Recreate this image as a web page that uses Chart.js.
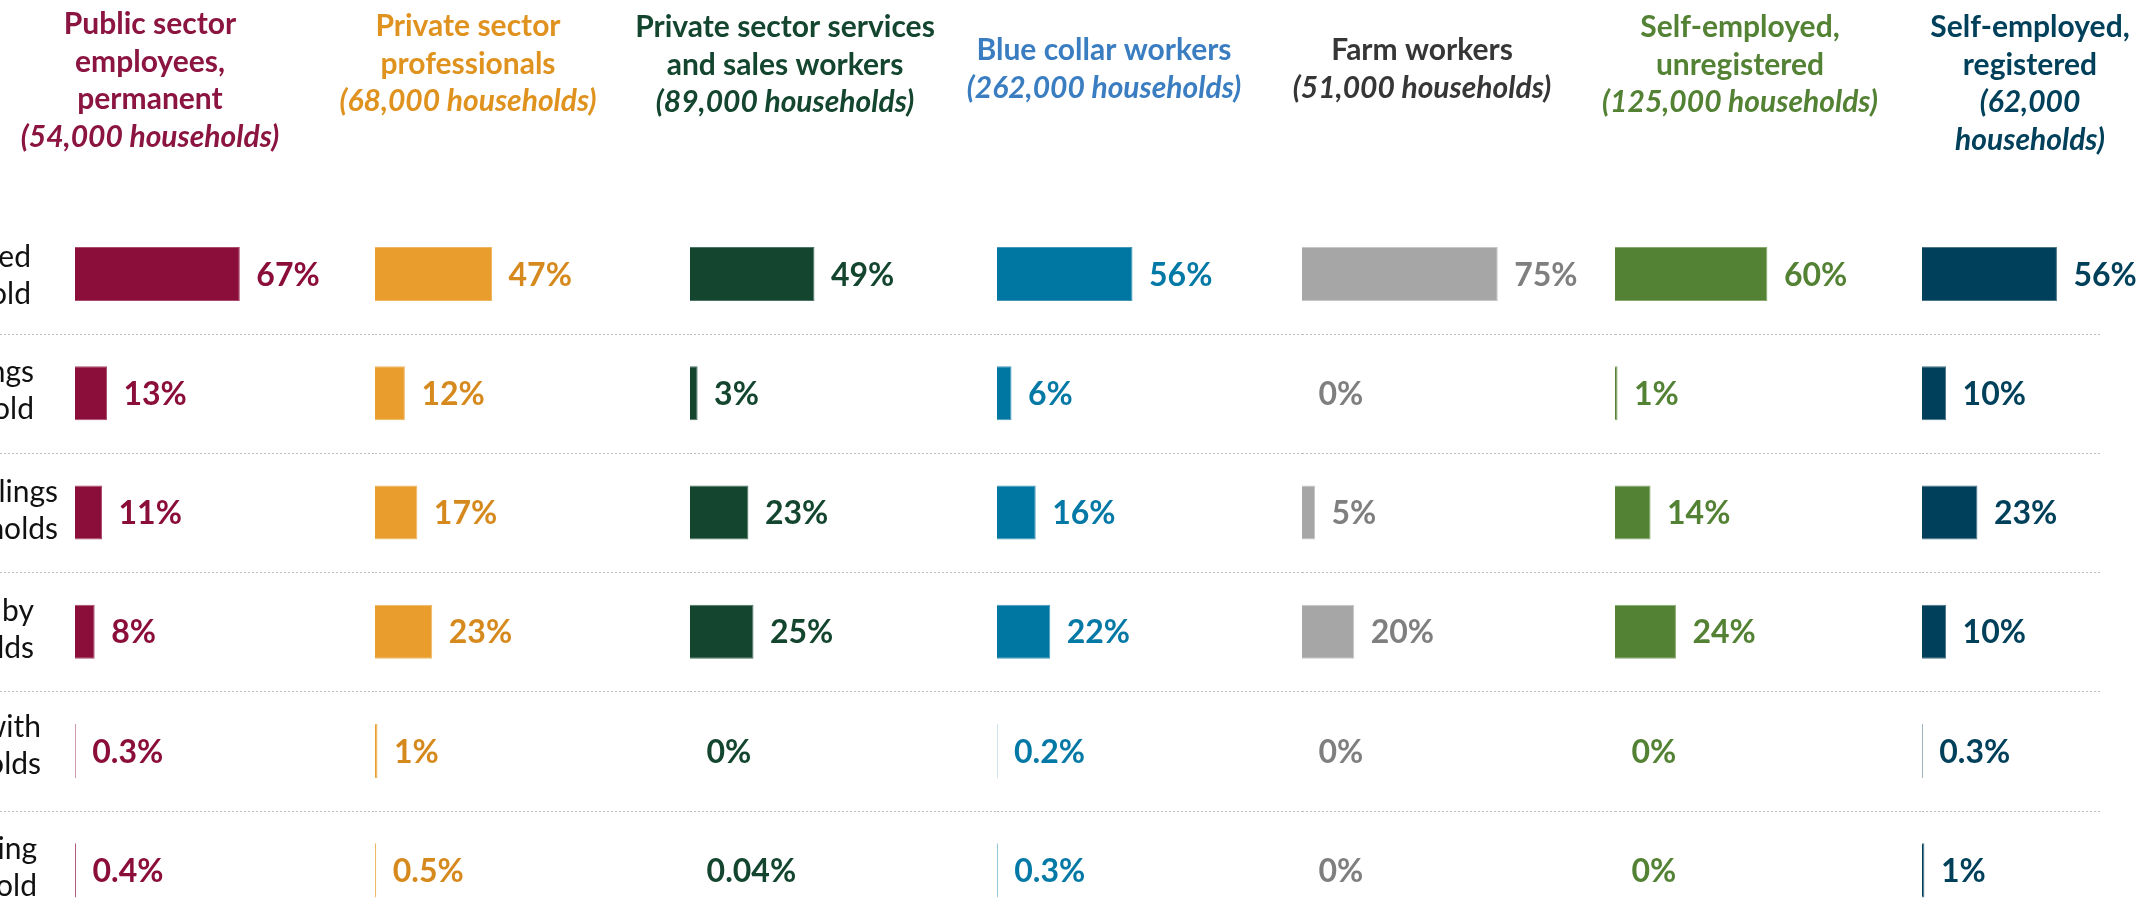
<!DOCTYPE html>
<html>
<head>
<meta charset="utf-8">
<script src="https://cdn.jsdelivr.net/npm/chart.js@4.4.0/dist/chart.umd.min.js"></script>
<style>
  html, body { margin: 0; padding: 0; background: #ffffff; overflow: hidden; width: 2149px; height: 903px; }
  #wrap { position: relative; width: 2149px; height: 903px; overflow: hidden; }
  #wrap canvas { position: absolute; left: 0; top: 0; }
</style>
</head>
<body>
<div id="wrap"></div>
<script>
// ---- data ----------------------------------------------------------------
// Row captions (only their trailing parts fall inside the frame)
const rowLabels = [
  ["ed", "old"],
  ["ngs", "old"],
  ["lings", "holds"],
  ["by", "lds"],
  ["with", "olds"],
  ["ing", "old"]
];

// Occupation groups (panel headings) and their household counts
const groupNames = [
  ["Public sector", "employees,", "permanent"],
  ["Private sector", "professionals"],
  ["Private sector services", "and sales workers"],
  ["Blue collar workers"],
  ["Farm workers"],
  ["Self-employed,", "unregistered"],
  ["Self-employed,", "registered"]
];
const householdCounts = [54000, 68000, 89000, 262000, 51000, 125000, 62000];

// Share of households in each row category, per occupation group (%)
const publicPermanent          = [67, 13, 11, 8, 0.3, 0.4];
const privateProfessionals     = [47, 12, 17, 23, 1, 0.5];
const privateServicesSales     = [49, 3, 23, 25, 0, 0.04];
const blueCollar               = [56, 6, 16, 22, 0.2, 0.3];
const farmWorkers              = [75, 0, 5, 20, 0, 0];
const selfEmployedUnregistered = [60, 1, 14, 24, 0, 0];
const selfEmployedRegistered   = [56, 10, 23, 10, 0.3, 1];

const groupValues = [
  publicPermanent, privateProfessionals, privateServicesSales, blueCollar,
  farmWorkers, selfEmployedUnregistered, selfEmployedRegistered
];

// ---- styling & layout ----------------------------------------------------
const W = 2149, H = 930;
const PLOT_TOP = 214.4;
const PLOT_RIGHT = 2102;
const barStart  = [75, 375, 690, 997, 1302, 1615, 1922];   // pixel of 0% in each panel
const pxPerPct  = [2.46, 2.49, 2.54, 2.42, 2.61, 2.54, 2.41];
const titleX    = [150, 468, 785, 1104, 1422, 1740, 2030];
const titleTop  = [34, 36, 37, 60, 60, 37, 37];            // first baseline
const countWraps = [false, false, false, false, false, false, true];
const rowLabelRight = [31, 34, 58, 34, 41, 37];
const rowLabelShift = [4, 0, 0, 0, -3, 0];

const palette = [
  { bar: '#8B0E3A', edge: '#A84A6C', text: '#8B0E3A', title: '#8B1540' },
  { bar: '#E89D2C', edge: '#EEB660', text: '#D68A1E', title: '#E0921F' },
  { bar: '#13452F', edge: '#4D7464', text: '#13452F', title: '#13452F' },
  { bar: '#0077A3', edge: '#4398BA', text: '#0479A6', title: '#3A7DC1' },
  { bar: '#A6A6A6', edge: '#C6C6C6', text: '#7F7F7F', title: '#363636' },
  { bar: '#548235', edge: '#88A970', text: '#548235', title: '#548235' },
  { bar: '#01405A', edge: '#4B7487', text: '#01405A', title: '#01405A' }
];

const FONT = 'Lato, "Open Sans", "DejaVu Sans", sans-serif';
const TITLE_SIZE = 30, TITLE_LEAD = 37.5;
const VALUE_SIZE = 32, VALUE_GAP = 16.5;
const ROW_SIZE = 30, ROW_LEAD = 37;

function titleLines(i) {
  const count = '(' + householdCounts[i].toLocaleString('en-US') + ' households)';
  const countLines = countWraps[i] ? count.split(' ') : [count];
  return groupNames[i].map(t => ({ t, italic: false }))
    .concat(countLines.map(t => ({ t, italic: true })));
}

// Draws dotted row separators, value labels, the panel heading and (first panel) row captions
const panelDecor = {
  id: 'panelDecor',
  beforeDatasetsDraw(chart) {
    const { ctx, chartArea, scales: { y } } = chart;
    ctx.save();
    ctx.strokeStyle = '#BDBDBD';
    ctx.lineWidth = 1;
    ctx.setLineDash([2, 2]);
    for (let k = 1; k < chart.data.labels.length; k++) {
      const yy = Math.round((y.getPixelForValue(k - 1) + y.getPixelForValue(k)) / 2) + 0.5;
      ctx.beginPath();
      ctx.moveTo(chartArea.left, yy);
      ctx.lineTo(chartArea.right, yy);
      ctx.stroke();
    }
    ctx.restore();
  },
  afterDatasetsDraw(chart) {
    const { ctx } = chart;
    const i = chart.options.panelIndex;
    const pal = palette[i];
    const values = chart.data.datasets[0].data;
    const meta = chart.getDatasetMeta(0);
    ctx.save();
    ctx.font = 'bold ' + VALUE_SIZE + 'px ' + FONT;
    ctx.fillStyle = pal.text;
    ctx.textAlign = 'left';
    ctx.textBaseline = 'alphabetic';
    meta.data.forEach((bar, j) => {
      ctx.fillText(values[j] + '%', bar.x + VALUE_GAP, bar.y + VALUE_SIZE * 0.36);
    });

    // panel heading
    ctx.textAlign = 'center';
    titleLines(i).forEach((ln, k) => {
      ctx.font = (ln.italic ? 'italic ' : '') + 'bold ' + TITLE_SIZE + 'px ' + FONT;
      ctx.fillStyle = pal.title;
      ctx.fillText(ln.t, titleX[i], titleTop[i] + k * TITLE_LEAD);
    });

    // row captions at the left edge
    if (i === 0) {
      const y = chart.scales.y;
      ctx.font = ROW_SIZE + 'px ' + FONT;
      ctx.fillStyle = '#111111';
      ctx.textAlign = 'right';
      rowLabels.forEach((lines, j) => {
        const cy = y.getPixelForValue(j) + rowLabelShift[j];
        const n = lines.length;
        lines.forEach((t, k) => {
          const lc = cy + (k - (n - 1) / 2) * ROW_LEAD;
          ctx.fillText(t, rowLabelRight[j], lc + ROW_SIZE * 0.25);
        });
      });
    }
    ctx.restore();
  }
};

function build() {
  const wrap = document.getElementById('wrap');
  const rowKeys = rowLabels.map(l => l.join(' '));
  groupValues.forEach((vals, i) => {
    const left = i === 0 ? 0 : barStart[i];
    const right = i < groupValues.length - 1 ? barStart[i + 1] : PLOT_RIGHT;
    const xMin = (left - barStart[i]) / pxPerPct[i];
    const xMax = (right - barStart[i]) / pxPerPct[i];
    const canvas = document.createElement('canvas');
    canvas.width = W; canvas.height = H;
    canvas.style.width = W + 'px'; canvas.style.height = H + 'px';
    wrap.appendChild(canvas);
    new Chart(canvas, {
      type: 'bar',
      data: {
        labels: rowKeys,
        datasets: [{
          data: vals,
          backgroundColor: palette[i].bar,
          borderColor: palette[i].edge,
          borderWidth: 1,
          inflateAmount: 0,
          barPercentage: 0.453,
          categoryPercentage: 1
        }]
      },
      options: {
        panelIndex: i,
        indexAxis: 'y',
        responsive: false,
        animation: false,
        devicePixelRatio: 1,
        events: [],
        layout: { padding: { left: left, right: W - right, top: PLOT_TOP, bottom: 0 } },
        scales: {
          x: { display: false, min: xMin, max: xMax },
          y: { display: false }
        },
        plugins: {
          legend: { display: false },
          tooltip: { enabled: false },
          title: { display: false }
        }
      },
      plugins: [panelDecor]
    });
  });
}

const fontLoads = ['30px Lato', 'bold 30px Lato', 'italic bold 30px Lato'].map(f => document.fonts.load(f));
Promise.all(fontLoads).then(build, build);
</script>
</body>
</html>
